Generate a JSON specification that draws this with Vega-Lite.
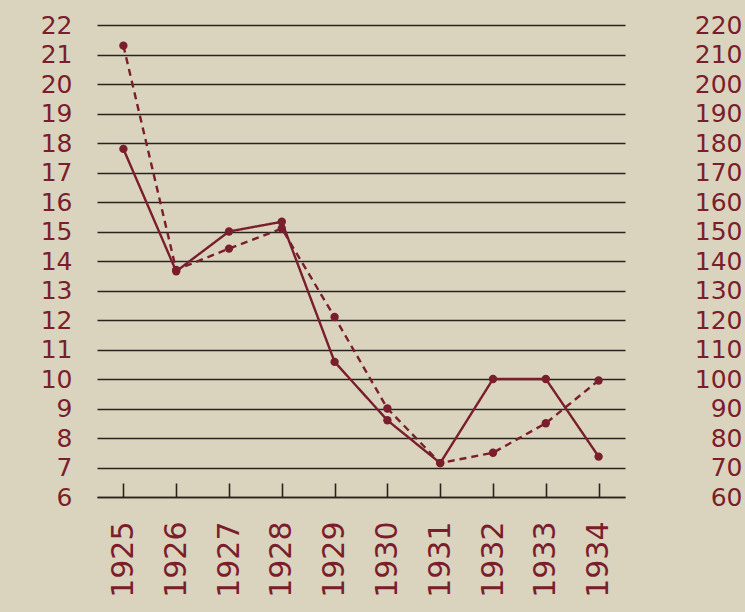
{
  "$schema": "https://vega.github.io/schema/vega-lite/v6.json",
  "width": 528,
  "height": 472,
  "autosize": {"type": "none"},
  "padding": {"left": 97, "top": 25, "right": 120, "bottom": 115},
  "background": "#dad4be",
  "config": {"view": {"stroke": null}, "font": "DejaVu Sans"},
  "data": {
    "values": [
      {"year": "1925", "series": "solid", "value": 17.8},
      {"year": "1926", "series": "solid", "value": 13.65},
      {"year": "1927", "series": "solid", "value": 15.0},
      {"year": "1928", "series": "solid", "value": 15.33},
      {"year": "1929", "series": "solid", "value": 10.58},
      {"year": "1930", "series": "solid", "value": 8.6},
      {"year": "1931", "series": "solid", "value": 7.15},
      {"year": "1932", "series": "solid", "value": 10.0},
      {"year": "1933", "series": "solid", "value": 10.0},
      {"year": "1934", "series": "solid", "value": 7.37},
      {"year": "1925", "series": "dashed", "value": 21.3},
      {"year": "1926", "series": "dashed", "value": 13.7},
      {"year": "1927", "series": "dashed", "value": 14.42},
      {"year": "1928", "series": "dashed", "value": 15.1},
      {"year": "1929", "series": "dashed", "value": 12.1},
      {"year": "1930", "series": "dashed", "value": 9.0},
      {"year": "1931", "series": "dashed", "value": 7.15},
      {"year": "1932", "series": "dashed", "value": 7.5},
      {"year": "1933", "series": "dashed", "value": 8.5},
      {"year": "1934", "series": "dashed", "value": 9.95}
    ]
  },
  "encoding": {
    "x": {
      "field": "year",
      "type": "ordinal",
      "sort": null,
      "scale": {"type": "point", "padding": 0.5},
      "axis": {
        "title": null,
        "orient": "bottom",
        "labelAngle": 270,
        "labelFontSize": 30,
        "labelColor": "#7a1d2c",
        "labelPadding": 38,
        "labelOverlap": false,
        "domain": true,
        "domainColor": "#2a221e",
        "domainWidth": 1.6,
        "ticks": true,
        "tickColor": "#2a221e",
        "tickWidth": 1.6,
        "tickSize": -14,
        "grid": false
      }
    }
  },
  "layer": [
    {
      "mark": {"type": "line", "color": "#7a1d2c", "strokeWidth": 2.4},
      "encoding": {
        "y": {
          "field": "value",
          "type": "quantitative",
          "scale": {"domain": [6, 22], "nice": false, "zero": false},
          "axis": {
            "title": null,
            "orient": "left",
            "values": [6, 7, 8, 9, 10, 11, 12, 13, 14, 15, 16, 17, 18, 19, 20, 21, 22],
            "grid": true,
            "gridColor": "#2a221e",
            "gridWidth": 1.5,
            "gridOpacity": 1,
            "domain": false,
            "ticks": false,
            "labelPadding": 25,
            "labelFontSize": 25,
            "labelColor": "#7a1d2c",
            "labelOverlap": false,
            "labelBaseline": "middle"
          }
        },
        "strokeDash": {
          "field": "series",
          "type": "nominal",
          "scale": {"domain": ["solid", "dashed"], "range": [[1, 0], [7, 5]]},
          "legend": null
        }
      }
    },
    {
      "mark": {"type": "point", "filled": true, "color": "#7a1d2c", "opacity": 1, "size": 70},
      "encoding": {
        "y": {
          "field": "value",
          "type": "quantitative",
          "axis": {
            "title": null,
            "orient": "right",
            "values": [6, 7, 8, 9, 10, 11, 12, 13, 14, 15, 16, 17, 18, 19, 20, 21, 22],
            "labelExpr": "datum.value * 10",
            "grid": false,
            "domain": false,
            "ticks": false,
            "labelAlign": "right",
            "labelPadding": 117,
            "labelFontSize": 25,
            "labelColor": "#7a1d2c",
            "labelOverlap": false,
            "labelBaseline": "middle"
          }
        },
        "detail": {"field": "series", "type": "nominal"}
      }
    }
  ],
  "resolve": {"axis": {"y": "independent"}}
}
